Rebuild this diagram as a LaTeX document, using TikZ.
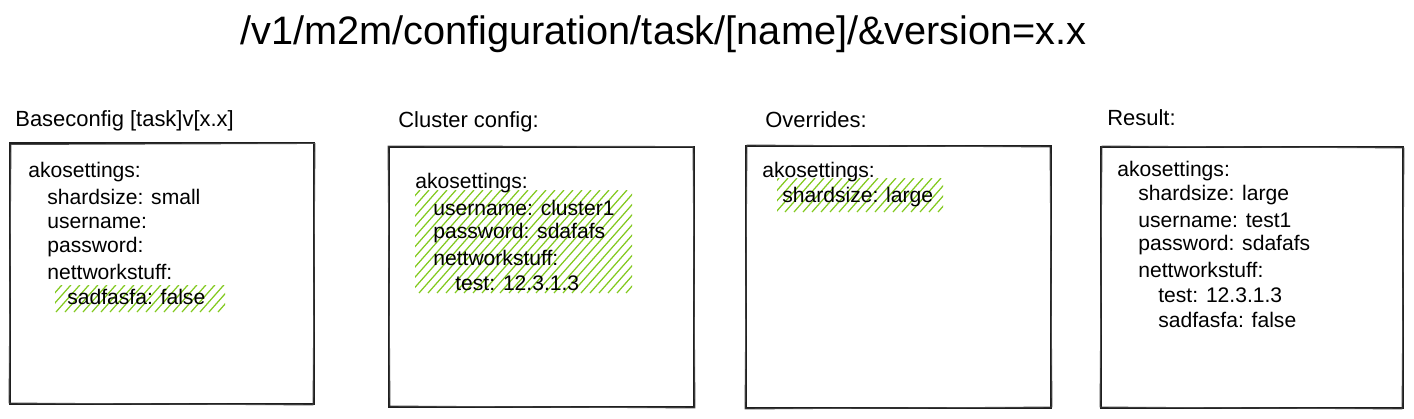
\documentclass[tikz,border=0pt]{standalone}
\usepackage{fontspec}
\setmainfont{Liberation Sans}
\usepackage{xcolor}
\usepackage{tikz}
\usetikzlibrary{positioning}
\definecolor{hatchgreen}{RGB}{130,201,30}
\definecolor{inkgray}{RGB}{30,30,30}

\begin{document}
\begin{tikzpicture}[
  x=0.02cm, y=-0.02cm,
  every node/.style={font=\fontsize{12}{14}\selectfont, inner sep=0pt, anchor=west},
  title/.style={font=\fontsize{22.6}{26}\selectfont},
  head/.style={font=\fontsize{12.5}{14}\selectfont},
  panel/.style={draw=inkgray, line width=0.9pt},
  panelb/.style={draw=inkgray!80, line width=0.5pt},
  hatch/.style={draw=hatchgreen, line width=0.7pt},
]
\useasboundingbox (0,0) rectangle (1414,419);

%% ── URL title ──────────────────────────────────────────────────────────
\node[title] (url) at (240,34) {/v1/m2m/configuration/task/[name]/\&version=x.x};

%% ── Column headings ────────────────────────────────────────────────────
\node[head] (hbase)    at (15,121)   {Baseconfig [task]v[x.x]};
\node[head] (hcluster) at (398,122)  {Cluster config:};
\node[head] (hover)    at (765,120)  {Overrides:};
\node[head] (hresult)  at (1107,118) {Result:};

%% ── Panels (sketchy double stroke) ─────────────────────────────────────
\draw[panel]  (10,143)  rectangle (314,404);
\draw[panelb] (11,144.5) -- (315,143.5) -- (313,405) -- (9,403) -- cycle;
\draw[panel]  (389,147) rectangle (694,407);
\draw[panelb] (388,146) -- (693,146.5) -- (695,408) -- (390,406) -- cycle;
\draw[panel]  (746,146) rectangle (1051,408);
\draw[panelb] (747,145) -- (1050,147) -- (1052,407) -- (745,409) -- cycle;
\draw[panel]  (1101,147) rectangle (1403,408);
\draw[panelb] (1102,146) -- (1404,148) -- (1402,409) -- (1100,407) -- cycle;

%% ── Hatched highlights ─────────────────────────────────────────────────
\begin{scope}
  \clip (55,285) rectangle (225,312);
  \foreach \x in {20,29,...,230} \draw[hatch] (\x,312) -- ++(30,-34);
\end{scope}
\begin{scope}
  \clip (415,190) rectangle (632,293);
  \foreach \x in {320,329,...,640} \draw[hatch] (\x,293) -- ++(91,-103);
\end{scope}
\begin{scope}
  \clip (777,178) rectangle (943,212);
  \foreach \x in {740,749,...,950} \draw[hatch] (\x,212) -- ++(30,-34);
\end{scope}

%% ── Base config ────────────────────────────────────────────────────────
\node (b1) at (28,172) {akosettings:};
\foreach \n/\x/\y/\t in {b2/47/197/shardsize: small, b3/47/223/username:,
    b4/47/247/password:, b5/47/272/nettworkstuff:, b6/67/297/sadfasfa: false}
  \node (\n) at (\x,\y) {\t};

%% ── Cluster config ─────────────────────────────────────────────────────
\node (c1) at (415,183) {akosettings:};
\foreach \n/\x/\y/\t in {c2/433/208/username: cluster1, c3/433/233/password: sdafafs,
    c4/433/258/nettworkstuff:, c5/455/283/test: 12.3.1.3}
  \node (\n) at (\x,\y) {\t};

%% ── Overrides ──────────────────────────────────────────────────────────
\node (o1) at (762,172) {akosettings:};
\node (o2) at (782,197) {shardsize: large};

%% ── Result ─────────────────────────────────────────────────────────────
\node (r1) at (1117,171) {akosettings:};
\foreach \n/\x/\y/\t in {r2/1138/195/shardsize: large, r3/1138/220/username: test1,
    r4/1138/245/password: sdafafs, r5/1138/270/nettworkstuff:,
    r6/1158/295/test: 12.3.1.3, r7/1158/320/sadfasfa: false}
  \node (\n) at (\x,\y) {\t};

\end{tikzpicture}
\end{document}
